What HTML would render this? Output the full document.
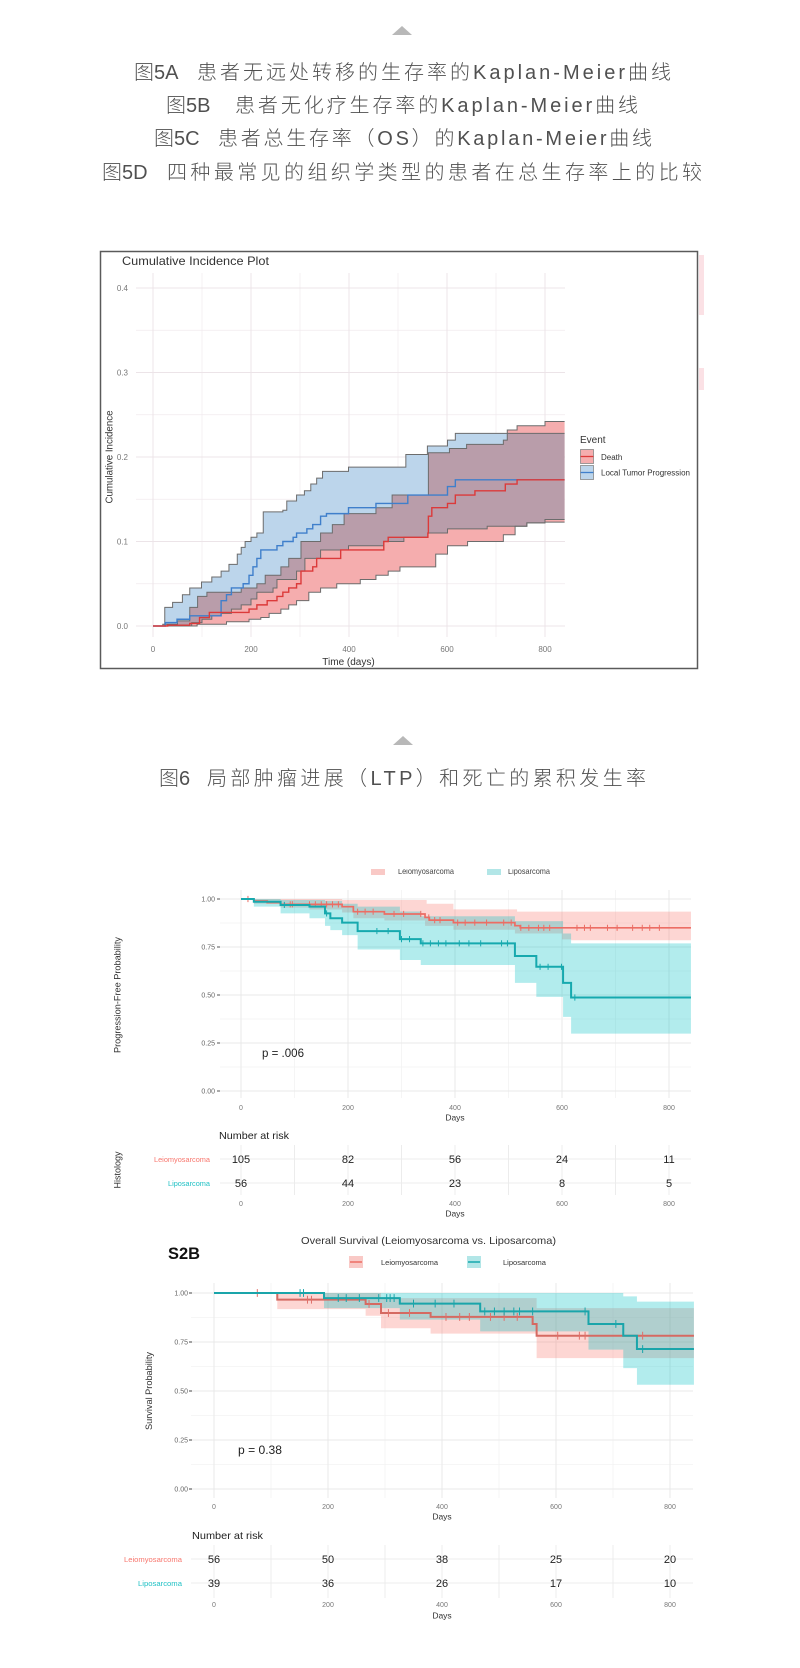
<!DOCTYPE html>
<html><head><meta charset="utf-8"><style>
html,body{margin:0;padding:0;background:#fff;}
svg{display:block;}
.cap{font-family:"Liberation Sans","Noto Sans CJK SC",sans-serif;font-size:20px;fill:#505050;font-weight:300;}
.t{font-family:"Liberation Sans",sans-serif;}
</style></head><body>
<svg width="800" height="1668" viewBox="0 0 800 1668" xmlns="http://www.w3.org/2000/svg">
<rect width="800" height="1668" fill="#fff"/>
<defs>
<clipPath id="cpB"><path d="M0,0 H24 V.022 H40 V.028 H60 V.037 H75 V.045 H99 V.052 H120 V.058 H139 V.065 H155 V.073 H172 V.085 H180 V.093 H188 V.1 H200 V.105 H212 V.11 H225 V.135 H265 V.137 H273 V.148 H293 V.155 H309 V.16 H322 V.168 H334 V.175 H346 V.183 H399 V.188 H516 V.203 H560 V.213 H601 V.22 H617 V.228 H840 L840,.126 H800 V.122 H763 V.118 H682 V.115 H601 V.11 H561 V.105 H512 V.1 H471 V.095 H399 V.09 H342 V.08 H310 V.065 H293 V.055 H253 V.045 H245 V.04 H212 V.032 H200 V.025 H180 V.02 H160 V.015 H139 V.012 H120 V.008 H100 V.004 H79 V0 H0 Z"/></clipPath>
</defs>

<!-- top triangle + captions -->
<polygon points="392,35 412,35 402,26" fill="#b8b8b8"/>
<text class="cap" x="134" y="79">图5A</text>
<text class="cap" x="197" y="79" textLength="474" lengthAdjust="spacing">患者无远处转移的生存率的Kaplan-Meier曲线</text>
<text class="cap" x="166" y="112">图5B</text>
<text class="cap" x="235" y="112" textLength="403" lengthAdjust="spacing">患者无化疗生存率的Kaplan-Meier曲线</text>
<text class="cap" x="154" y="145">图5C</text>
<text class="cap" x="218" y="145" textLength="434" lengthAdjust="spacing">患者总生存率（OS）的Kaplan-Meier曲线</text>
<text class="cap" x="102" y="179">图5D</text>
<text class="cap" x="167" y="179" textLength="535" lengthAdjust="spacing">四种最常见的组织学类型的患者在总生存率上的比较</text>

<!-- ============ CHART 1 ============ -->
<rect x="100.5" y="251.5" width="597" height="417" fill="#fff" stroke="#5a5a5a" stroke-width="1.5"/>
<rect x="699" y="255" width="5" height="60" fill="#fbe1e5"/>
<rect x="699" y="368" width="5" height="22" fill="#fbe1e5"/>
<g stroke="#f1eaee" stroke-width="0.7">
<path d="M136,583.75H565M136,499.25H565M136,414.75H565M136,330.25H565"/>
<path d="M202,273V637M300,273V637M398,273V637M496,273V637"/>
</g>
<g stroke="#ece4e8" stroke-width="1">
<path d="M136,626H565M136,541.5H565M136,457H565M136,372.5H565M136,288H565"/>
<path d="M153,273V637M251,273V637M349,273V637M447,273V637M545,273V637"/>
</g>
<g transform="translate(153,626) scale(0.49,-845)">
<path fill="#bcd5eb" d="M0,0 H24 V.022 H40 V.028 H60 V.037 H75 V.045 H99 V.052 H120 V.058 H139 V.065 H155 V.073 H172 V.085 H180 V.093 H188 V.1 H200 V.105 H212 V.11 H225 V.135 H265 V.137 H273 V.148 H293 V.155 H309 V.16 H322 V.168 H334 V.175 H346 V.183 H399 V.188 H516 V.203 H560 V.213 H601 V.22 H617 V.228 H840 L840,.126 H800 V.122 H763 V.118 H682 V.115 H601 V.11 H561 V.105 H512 V.1 H471 V.095 H399 V.09 H342 V.08 H310 V.065 H293 V.055 H253 V.045 H245 V.04 H212 V.032 H200 V.025 H180 V.02 H160 V.015 H139 V.012 H120 V.008 H100 V.004 H79 V0 H0 Z"/>
<path fill="#f5adae" d="M0,0 H20 V.002 H50 V.006 H75 V.022 H91 V.035 H110 V.04 H180 V.045 H212 V.05 H229 V.06 H261 V.07 H277 V.08 H302 V.1 H342 V.11 H366 V.12 H390 V.133 H455 V.14 H488 V.155 H562 V.205 H605 V.21 H640 V.215 H715 V.22 H723 V.232 H743 V.237 H800 V.242 H840 L840,.123 H800 V.122 H763 V.118 H739 V.108 H715 V.1 H642 V.095 H601 V.085 H577 V.07 H504 V.065 H480 V.06 H455 V.055 H423 V.05 H375 V.045 H342 V.04 H318 V.03 H293 V.025 H277 V.02 H261 V.015 H237 V.01 H220 V.008 H196 V.005 H150 V.002 H90 V0 H0 Z"/>
<path fill="#b99daa" clip-path="url(#cpB)" d="M0,0 H20 V.002 H50 V.006 H75 V.022 H91 V.035 H110 V.04 H180 V.045 H212 V.05 H229 V.06 H261 V.07 H277 V.08 H302 V.1 H342 V.11 H366 V.12 H390 V.133 H455 V.14 H488 V.155 H562 V.205 H605 V.21 H640 V.215 H715 V.22 H723 V.232 H743 V.237 H800 V.242 H840 L840,.123 H800 V.122 H763 V.118 H739 V.108 H715 V.1 H642 V.095 H601 V.085 H577 V.07 H504 V.065 H480 V.06 H455 V.055 H423 V.05 H375 V.045 H342 V.04 H318 V.03 H293 V.025 H277 V.02 H261 V.015 H237 V.01 H220 V.008 H196 V.005 H150 V.002 H90 V0 H0 Z"/>
<g fill="none" stroke="#6c6c6c" stroke-width="1">
<path vector-effect="non-scaling-stroke" d="M0,0 H24 V.022 H40 V.028 H60 V.037 H75 V.045 H99 V.052 H120 V.058 H139 V.065 H155 V.073 H172 V.085 H180 V.093 H188 V.1 H200 V.105 H212 V.11 H225 V.135 H265 V.137 H273 V.148 H293 V.155 H309 V.16 H322 V.168 H334 V.175 H346 V.183 H399 V.188 H516 V.203 H560 V.213 H601 V.22 H617 V.228 H840"/>
<path vector-effect="non-scaling-stroke" d="M0,0 H79 V.004 H100 V.008 H120 V.012 H139 V.015 H160 V.02 H180 V.025 H200 V.032 H212 V.04 H245 V.045 H253 V.055 H293 V.065 H310 V.08 H342 V.09 H399 V.095 H471 V.1 H512 V.105 H561 V.11 H601 V.115 H682 V.118 H763 V.122 H800 V.126 H840"/>
<path vector-effect="non-scaling-stroke" d="M0,0 H20 V.002 H50 V.006 H75 V.022 H91 V.035 H110 V.04 H180 V.045 H212 V.05 H229 V.06 H261 V.07 H277 V.08 H302 V.1 H342 V.11 H366 V.12 H390 V.133 H455 V.14 H488 V.155 H562 V.205 H605 V.21 H640 V.215 H715 V.22 H723 V.232 H743 V.237 H800 V.242 H840"/>
<path vector-effect="non-scaling-stroke" d="M0,0 H90 V.002 H150 V.005 H196 V.008 H220 V.01 H237 V.015 H261 V.02 H277 V.025 H293 V.03 H318 V.04 H342 V.045 H375 V.05 H423 V.055 H455 V.06 H480 V.065 H504 V.07 H577 V.085 H601 V.095 H642 V.1 H715 V.108 H739 V.118 H763 V.122 H800 V.123 H840"/>
</g>
<path fill="none" stroke="#3f7fcb" stroke-width="1.4" vector-effect="non-scaling-stroke" d="M0,0 H25 V.004 H49 V.008 H75 V.012 H139 V.03 H150 V.037 H160 V.045 H184 V.05 H196 V.06 H204 V.07 H212 V.08 H220 V.09 H253 V.095 H265 V.1 H286 V.105 H293 V.11 H314 V.115 H326 V.12 H342 V.13 H354 V.133 H399 V.14 H455 V.145 H520 V.155 H601 V.165 H617 V.173 H840"/>
<path fill="none" stroke="#dc3a3a" stroke-width="1.4" vector-effect="non-scaling-stroke" d="M0,0 H30 V.001 H75 V.003 H95 V.01 H115 V.016 H196 V.02 H212 V.025 H233 V.03 H253 V.035 H265 V.04 H277 V.045 H293 V.05 H302 V.065 H326 V.07 H334 V.08 H383 V.09 H471 V.1 H480 V.105 H561 V.11 H562 V.13 H569 V.14 H601 V.145 H617 V.155 H657 V.16 H719 V.168 H743 V.173 H840"/>
</g>
<text class="t" x="122" y="265" font-size="12" fill="#333" textLength="147" lengthAdjust="spacingAndGlyphs">Cumulative Incidence Plot</text>
<g class="t" font-size="8" fill="#777" text-anchor="end">
<text x="128" y="291">0.4</text><text x="128" y="375.5">0.3</text><text x="128" y="460">0.2</text><text x="128" y="544.5">0.1</text><text x="128" y="629">0.0</text>
</g>
<g class="t" font-size="8" fill="#777" text-anchor="middle">
<text x="153" y="652">0</text><text x="251" y="652">200</text><text x="349" y="652">400</text><text x="447" y="652">600</text><text x="545" y="652">800</text>
</g>
<text class="t" x="348.5" y="665" font-size="10" fill="#333" text-anchor="middle">Time (days)</text>
<text class="t" transform="translate(112.5,457) rotate(-90)" font-size="10" fill="#333" text-anchor="middle" textLength="93" lengthAdjust="spacingAndGlyphs">Cumulative Incidence</text>
<text class="t" x="580" y="443" font-size="10" fill="#333">Event</text>
<rect x="580.5" y="449.5" width="13" height="14" fill="#f5adae" stroke="#888" stroke-width="0.8"/>
<line x1="580.5" y1="456.5" x2="593.5" y2="456.5" stroke="#dc3a3a" stroke-width="1.3"/>
<rect x="580.5" y="465.5" width="13" height="14" fill="#bcd5eb" stroke="#888" stroke-width="0.8"/>
<line x1="580.5" y1="472.5" x2="593.5" y2="472.5" stroke="#3f7fcb" stroke-width="1.3"/>
<text class="t" x="601" y="460" font-size="8" fill="#333">Death</text>
<text class="t" x="601" y="475.5" font-size="8" fill="#333" textLength="89" lengthAdjust="spacingAndGlyphs">Local Tumor Progression</text>

<!-- second triangle + caption -->
<polygon points="393,745 413,745 403,736" fill="#b8b8b8"/>
<text class="cap" x="159" y="785">图6</text>
<text class="cap" x="207" y="785" textLength="439" lengthAdjust="spacing">局部肿瘤进展（LTP）和死亡的累积发生率</text>

<!-- ============ CHART 2 ============ -->
<rect x="371" y="862" width="14" height="13" fill="#f9c9c6"/>
<rect x="487" y="862" width="14" height="13" fill="#b2e6e7"/>
<text class="t" x="398" y="874" font-size="8.5" fill="#444" textLength="56" lengthAdjust="spacingAndGlyphs">Leiomyosarcoma</text>
<text class="t" x="508" y="874" font-size="8.5" fill="#444" textLength="42" lengthAdjust="spacingAndGlyphs">Liposarcoma</text>
<rect x="120" y="850" width="600" height="19" fill="#fff"/>
<g stroke="#f3f3f3" stroke-width="0.8">
<path d="M220,923H691M220,971H691M220,1019H691M220,1067H691"/>
<path d="M294.5,890V1098M401.5,890V1098M508.5,890V1098M615.5,890V1098"/>
</g>
<g stroke="#e9e9e9" stroke-width="1">
<path d="M220,899H691M220,947H691M220,995H691M220,1043H691M220,1091H691"/>
<path d="M241,890V1098M348,890V1098M455,890V1098M562,890V1098M669,890V1098"/>
</g>
<g transform="translate(241,1091) scale(0.535,-192)">
<path fill="#F8766D" fill-opacity="0.3" d="M0,1 H189 V.995 H347 V.975 H397 V.946 H516 V.934 H841 L841,.785 H617 V.79 H600 V.82 H512 V.84 H397 V.86 H344 V.888 H268 V.9 H210 V.93 H189 V.945 H128 V.955 H74 V.975 H24 V1 H0 Z"/>
<path fill="#00BFC4" fill-opacity="0.3" d="M0,1 H74 V.995 H157 V.99 H189 V.975 H218 V.96 H297 V.935 H336 V.91 H512 V.885 H602 V.82 H617 V.769 H841 L841,.299 H617 V.386 H602 V.49 H552 V.563 H512 V.656 H336 V.682 H297 V.737 H218 V.812 H189 V.838 H167 V.86 H157 V.9 H128 V.925 H74 V.96 H24 V1 H0 Z"/>
<path fill="none" stroke="#ec6d64" stroke-width="1.7" vector-effect="non-scaling-stroke" d="M0,1 H24 V.99 H49 V.981 H74 V.972 H189 V.96 H210 V.934 H268 V.922 H344 V.904 H352 V.89 H397 V.877 H512 V.861 H522 V.85 H841"/>
<path fill="none" stroke="#ec6d64" stroke-width="1" vector-effect="non-scaling-stroke" d="M13,.984V1.016 M92,.956V.988 M96,.956V.988 M128,.956V.988 M139,.956V.988 M150,.956V.988 M160,.956V.988 M171,.956V.988 M182,.956V.988 M218,.918V.95 M232,.918V.95 M247,.918V.95 M286,.906V.938 M304,.906V.938 M336,.906V.938 M351,.888V.92 M362,.874V.906 M372,.874V.906 M405,.861V.893 M419,.861V.893 M437,.861V.893 M459,.861V.893 M491,.861V.893 M505,.861V.893 M523,.834V.866 M538,.834V.866 M556,.834V.866 M566,.834V.866 M577,.834V.866 M628,.834V.866 M642,.834V.866 M653,.834V.866 M685,.834V.866 M703,.834V.866 M732,.834V.866 M750,.834V.866 M764,.834V.866 M782,.834V.866"/>
<path fill="none" stroke="#16a9ae" stroke-width="2" vector-effect="non-scaling-stroke" d="M0,1 H24 V.986 H74 V.969 H128 V.96 H157 V.925 H167 V.9 H189 V.877 H218 V.833 H297 V.791 H336 V.769 H512 V.703 H552 V.647 H602 V.563 H617 V.487 H841"/>
<path fill="none" stroke="#16a9ae" stroke-width="1" vector-effect="non-scaling-stroke" d="M81,.953V.985 M160,.909V.941 M254,.817V.849 M275,.817V.849 M300,.775V.807 M315,.775V.807 M340,.753V.785 M354,.753V.785 M369,.753V.785 M383,.753V.785 M408,.753V.785 M426,.753V.785 M448,.753V.785 M487,.753V.785 M498,.753V.785 M559,.631V.663 M574,.631V.663 M599,.631V.663 M624,.471V.503"/>
</g>
<g class="t" font-size="7" fill="#666" text-anchor="end">
<text x="215" y="901.5">1.00</text><text x="215" y="949.5">0.75</text><text x="215" y="997.5">0.50</text><text x="215" y="1045.5">0.25</text><text x="215" y="1093.5">0.00</text>
</g>
<g stroke="#555" stroke-width="1"><path d="M217,899H220M217,947H220M217,995H220M217,1043H220M217,1091H220"/></g>
<g class="t" font-size="7" fill="#777" text-anchor="middle">
<text x="241" y="1110">0</text><text x="348" y="1110">200</text><text x="455" y="1110">400</text><text x="562" y="1110">600</text><text x="669" y="1110">800</text>
</g>
<text class="t" x="455" y="1120.5" font-size="8.5" fill="#333" text-anchor="middle">Days</text>
<text class="t" transform="translate(120.5,995) rotate(-90)" font-size="9" fill="#333" text-anchor="middle" textLength="116" lengthAdjust="spacingAndGlyphs">Progression-Free Probability</text>
<text class="t" x="262" y="1057" font-size="12" fill="#222" textLength="42" lengthAdjust="spacingAndGlyphs">p = .006</text>
<text class="t" x="219" y="1139" font-size="10.5" fill="#222" textLength="70" lengthAdjust="spacingAndGlyphs">Number at risk</text>
<text class="t" transform="translate(120.5,1170) rotate(-90)" font-size="9" fill="#333" text-anchor="middle">Histology</text>
<g stroke="#ececec" stroke-width="1">
<path d="M220,1159H691M220,1183H691"/>
<path d="M241,1145V1195M294.5,1145V1195M348,1145V1195M401.5,1145V1195M455,1145V1195M508.5,1145V1195M562,1145V1195M615.5,1145V1195M669,1145V1195"/>
</g>
<text class="t" x="210" y="1162" font-size="7.5" fill="#F8766D" text-anchor="end" textLength="56" lengthAdjust="spacingAndGlyphs">Leiomyosarcoma</text>
<text class="t" x="210" y="1186" font-size="7.5" fill="#1fc0c4" text-anchor="end" textLength="42" lengthAdjust="spacingAndGlyphs">Liposarcoma</text>
<g class="t" font-size="11" fill="#222" text-anchor="middle">
<text x="241" y="1163">105</text><text x="348" y="1163">82</text><text x="455" y="1163">56</text><text x="562" y="1163">24</text><text x="669" y="1163">11</text>
<text x="241" y="1187">56</text><text x="348" y="1187">44</text><text x="455" y="1187">23</text><text x="562" y="1187">8</text><text x="669" y="1187">5</text>
</g>
<g class="t" font-size="7" fill="#777" text-anchor="middle">
<text x="241" y="1206">0</text><text x="348" y="1206">200</text><text x="455" y="1206">400</text><text x="562" y="1206">600</text><text x="669" y="1206">800</text>
</g>
<text class="t" x="455" y="1216.5" font-size="8.5" fill="#333" text-anchor="middle">Days</text>

<!-- ============ CHART 3 ============ -->
<text class="t" x="168" y="1259" font-size="17" font-weight="bold" fill="#111" textLength="32" lengthAdjust="spacingAndGlyphs">S2B</text>
<text class="t" x="301" y="1244" font-size="10.5" fill="#333" textLength="255" lengthAdjust="spacingAndGlyphs">Overall Survival (Leiomyosarcoma vs. Liposarcoma)</text>
<rect x="349" y="1256" width="14" height="12" fill="#f9c9c6"/>
<line x1="350" y1="1262" x2="362" y2="1262" stroke="#ec6d64" stroke-width="1.5"/>
<rect x="467" y="1256" width="14" height="12" fill="#b2e6e7"/>
<line x1="468" y1="1262" x2="480" y2="1262" stroke="#16a9ae" stroke-width="1.5"/>
<text class="t" x="381" y="1265" font-size="7.5" fill="#333" textLength="57" lengthAdjust="spacingAndGlyphs">Leiomyosarcoma</text>
<text class="t" x="503" y="1265" font-size="7.5" fill="#333" textLength="43" lengthAdjust="spacingAndGlyphs">Liposarcoma</text>
<g stroke="#f3f3f3" stroke-width="0.8">
<path d="M191,1317.5H693M191,1366.5H693M191,1415.5H693M191,1464.5H693"/>
<path d="M271,1283V1498M385,1283V1498M499,1283V1498M613,1283V1498"/>
</g>
<g stroke="#e9e9e9" stroke-width="1">
<path d="M191,1293H693M191,1342H693M191,1391H693M191,1440H693M191,1489H693"/>
<path d="M214,1283V1498M328,1283V1498M442,1283V1498M556,1283V1498M670,1283V1498"/>
</g>
<g transform="translate(214,1489) scale(0.57,-196)">
<path fill="#F8766D" fill-opacity="0.3" d="M0,1 H293 V.974 H566 V.923 H842 L842,.668 H566 V.793 H380 V.82 H293 V.884 H266 V.918 H111 V1 H0 Z"/>
<path fill="#00BFC4" fill-opacity="0.3" d="M0,1 H718 V.983 H742 V.956 H842 L842,.532 H742 V.617 H718 V.711 H657 V.804 H467 V.864 H326 V.923 H193 V1 H0 Z"/>
<path fill="none" stroke="#d56a62" stroke-width="2" vector-effect="non-scaling-stroke" d="M0,1 H111 V.966 H266 V.944 H293 V.898 H380 V.878 H559 V.842 H566 V.782 H842"/>
<path fill="none" stroke="#e0706a" stroke-width="1" vector-effect="non-scaling-stroke" d="M76,.98V1.02 M164,.946V.986 M171,.946V.986 M272,.924V.964 M306,.878V.918 M343,.878V.918 M407,.858V.898 M431,.858V.898 M448,.858V.898 M485,.858V.898 M509,.858V.898 M532,.858V.898 M603,.762V.802 M641,.762V.802 M651,.762V.802 M752,.762V.802"/>
<path fill="none" stroke="#1aa5aa" stroke-width="2" vector-effect="non-scaling-stroke" d="M0,1 H193 V.974 H326 V.946 H467 V.906 H657 V.842 H718 V.782 H742 V.714 H842"/>
<path fill="none" stroke="#1aa5aa" stroke-width="1" vector-effect="non-scaling-stroke" d="M151,.98V1.02 M157,.98V1.02 M218,.954V.994 M232,.954V.994 M255,.954V.994 M289,.954V.994 M303,.954V.994 M309,.954V.994 M316,.954V.994 M350,.926V.966 M388,.926V.966 M421,.926V.966 M475,.886V.926 M492,.886V.926 M509,.886V.926 M526,.886V.926 M536,.886V.926 M559,.886V.926 M651,.886V.926 M705,.822V.862 M752,.694V.734"/>
</g>
<g class="t" font-size="7" fill="#666" text-anchor="end">
<text x="188" y="1295.5">1.00</text><text x="188" y="1344.5">0.75</text><text x="188" y="1393.5">0.50</text><text x="188" y="1442.5">0.25</text><text x="188" y="1491.5">0.00</text>
</g>
<g stroke="#444" stroke-width="1"><path d="M189,1293H192M189,1342H192M189,1391H192M189,1440H192M189,1489H192"/></g>
<g class="t" font-size="7" fill="#777" text-anchor="middle">
<text x="214" y="1509">0</text><text x="328" y="1509">200</text><text x="442" y="1509">400</text><text x="556" y="1509">600</text><text x="670" y="1509">800</text>
</g>
<text class="t" x="442" y="1519.5" font-size="8.5" fill="#333" text-anchor="middle">Days</text>
<text class="t" transform="translate(152,1391) rotate(-90)" font-size="9" fill="#333" text-anchor="middle" textLength="78" lengthAdjust="spacingAndGlyphs">Survival Probability</text>
<text class="t" x="238" y="1454" font-size="12" fill="#222" textLength="44" lengthAdjust="spacingAndGlyphs">p = 0.38</text>
<text class="t" x="192" y="1539" font-size="10.5" fill="#222" textLength="71" lengthAdjust="spacingAndGlyphs">Number at risk</text>
<g stroke="#ececec" stroke-width="1">
<path d="M191,1559H693M191,1583H693"/>
<path d="M214,1545V1598M271,1545V1598M328,1545V1598M385,1545V1598M442,1545V1598M499,1545V1598M556,1545V1598M613,1545V1598M670,1545V1598"/>
</g>
<text class="t" x="182" y="1562" font-size="7.5" fill="#F8766D" text-anchor="end" textLength="58" lengthAdjust="spacingAndGlyphs">Leiomyosarcoma</text>
<text class="t" x="182" y="1586" font-size="7.5" fill="#1fc0c4" text-anchor="end" textLength="44" lengthAdjust="spacingAndGlyphs">Liposarcoma</text>
<g class="t" font-size="11" fill="#222" text-anchor="middle">
<text x="214" y="1563">56</text><text x="328" y="1563">50</text><text x="442" y="1563">38</text><text x="556" y="1563">25</text><text x="670" y="1563">20</text>
<text x="214" y="1587">39</text><text x="328" y="1587">36</text><text x="442" y="1587">26</text><text x="556" y="1587">17</text><text x="670" y="1587">10</text>
</g>
<g class="t" font-size="7" fill="#777" text-anchor="middle">
<text x="214" y="1607">0</text><text x="328" y="1607">200</text><text x="442" y="1607">400</text><text x="556" y="1607">600</text><text x="670" y="1607">800</text>
</g>
<text class="t" x="442" y="1618.5" font-size="8.5" fill="#333" text-anchor="middle">Days</text>
</svg>
</body></html>
